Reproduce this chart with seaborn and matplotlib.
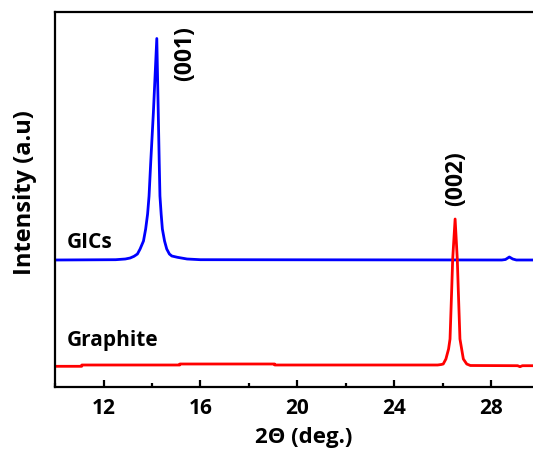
import matplotlib
matplotlib.use("Agg")
import matplotlib.pyplot as plt
import seaborn as sns
import pandas as pd
from matplotlib.ticker import MultipleLocator

# ---- data (2theta in degrees, intensity in arbitrary units) ----
gic_x = [10.0, 12.5, 12.9, 13.1, 13.26, 13.4, 13.51, 13.65, 13.74, 13.82, 13.88, 13.95,
         14.06, 14.2, 14.26, 14.30, 14.33, 14.38, 14.43, 14.52, 14.61, 14.72, 14.82,
         15.05, 15.45, 16.0, 28.45, 28.6, 28.76, 28.9, 29.05, 30.6]
gic_y = [127, 127.3, 128, 129, 130.7, 133, 138, 146, 158, 173, 191, 225,
         275, 348.5, 275, 225, 191, 173, 158, 146, 138, 133, 131,
         129.7, 128, 127.3, 127, 127.5, 130, 128, 127, 127]

graphite_x = [10.0, 11.1, 11.1, 15.15, 15.15, 19.07, 19.07, 25.8, 25.95, 26.03, 26.14,
              26.25, 26.31, 26.38, 26.42, 26.52, 26.61, 26.65, 26.72, 26.79, 26.86,
              27.0, 27.15, 29.1, 29.2, 29.3, 30.6]
graphite_y = [20.7, 20.7, 22, 22, 23, 23, 22, 22, 22.5, 23, 28,
              38, 48, 98, 128, 168, 128, 98, 48, 38, 28,
              23, 21.5, 21.3, 20.3, 21.3, 21.3]

series_names = ["GICs", "Graphite"]
peak_labels = ["(001)", "(002)"]
x_ticks = [12, 16, 20, 24, 28]

sns.set_style("ticks")
FONT = ["Open Sans", "DejaVu Sans"]
plt.rcParams["font.family"] = FONT
plt.rcParams["font.weight"] = "bold"
plt.rcParams["text.color"] = "black"
plt.rcParams["axes.labelcolor"] = "black"
plt.rcParams["xtick.color"] = "black"

W, H = 533, 452
fig = plt.figure(figsize=(W / 100, H / 100), dpi=100)
x0, x1 = 55.1, 553.9
y_top, y_bot = 13, 388
ax = fig.add_axes([x0 / W, (H - y_bot) / H, (x1 - x0) / W, (y_bot - y_top) / H])

gic_df = pd.DataFrame({"theta": gic_x, "intensity": gic_y})
gra_df = pd.DataFrame({"theta": graphite_x, "intensity": graphite_y})

sns.lineplot(data=gic_df, x="theta", y="intensity", ax=ax, color="#0000ff",
             linewidth=2.0, estimator=None, sort=False)
sns.lineplot(data=gra_df, x="theta", y="intensity", ax=ax, color="#ff0000",
             linewidth=2.0, estimator=None, sort=False)

ax.set_xlim(10, 30.6)
ax.set_ylim(0, 375)
ax.set_xticks(x_ticks)
ax.xaxis.set_minor_locator(MultipleLocator(2))
ax.set_yticks([])

for s in ["left", "bottom", "top"]:
    ax.spines[s].set_linewidth(1.6)
    ax.spines[s].set_color("black")
ax.spines["right"].set_visible(False)
ax.spines["top"].set_visible(True)

ax.tick_params(axis="x", which="major", direction="in", length=5, width=1.6,
               labelsize=15, pad=7, colors="black")
ax.tick_params(axis="x", which="minor", direction="in", length=3, width=1.6)
for lbl in ax.get_xticklabels():
    lbl.set_fontweight("bold")
    lbl.set_family(FONT)

ax.set_xlabel("2\u0398 (deg.)", fontsize=16, fontweight="bold", family=FONT)
ax.set_ylabel("Intensity (a.u)", fontsize=17, fontweight="bold", family=FONT)
ax.xaxis.set_label_coords((304 - x0) / (x1 - x0), (y_bot - 427) / (y_bot - y_top))
ax.yaxis.set_label_coords((37 - x0) / (x1 - x0), (y_bot - 193) / (y_bot - y_top))

ax.text(10.5, 140, series_names[0], fontsize=15, fontweight="bold", va="baseline", family=FONT)
ax.text(10.5, 41.5, series_names[1], fontsize=15, fontweight="bold", va="baseline", family=FONT)
ax.text(15.37, 334.5, peak_labels[0], fontsize=16.5, fontweight="bold",
        rotation=90, ha="center", va="center", family=FONT)
ax.text(26.58, 209.5, peak_labels[1], fontsize=16.5, fontweight="bold",
        rotation=90, ha="center", va="center", family=FONT)

fig.savefig("out.png", dpi=100)
